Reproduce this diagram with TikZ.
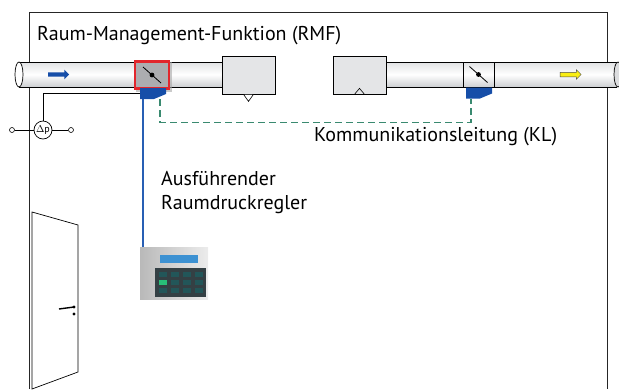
\documentclass[tikz,border=0pt]{standalone}
\usepackage{fontspec}
\setmainfont{PT Sans}
\usetikzlibrary{arrows.meta,positioning,calc,shapes.geometric,shapes.arrows,shadows.blur}
\definecolor{ductgray}{RGB}{205,207,210}
\definecolor{boxgray}{RGB}{228,229,231}
\definecolor{flapgray}{RGB}{172,173,176}
\definecolor{flapred}{RGB}{226,38,44}
\definecolor{actblue}{RGB}{22,78,168}
\definecolor{wireblue}{RGB}{40,95,180}
\definecolor{klgreen}{RGB}{58,138,112}
\definecolor{flowyellow}{RGB}{250,238,20}
\definecolor{dispblue}{RGB}{60,145,210}
\definecolor{padgray}{RGB}{52,64,68}
\definecolor{keygreen}{RGB}{40,190,120}

\tikzset{
  wall/.style={line width=0.8pt, black!85},
  duct/.style={top color=ductgray!60, bottom color=ductgray, middle color=white},
  box/.style={rectangle, draw, fill=boxgray, line width=0.7pt, minimum width=53pt, minimum height=38pt, inner sep=0pt},
  flap/.style={rectangle, inner sep=0pt,
    path picture={\draw[black, solid, line width=0.8pt] ([shift={(-9pt,8pt)}]path picture bounding box.center) -- ([shift={(9pt,-8pt)}]path picture bounding box.center);
      \fill[black] (path picture bounding box.center) circle (2.4pt);}},
  act/.style={rectangle, inner sep=0pt, minimum width=26pt, minimum height=11pt,
    path picture={\fill[actblue] (path picture bounding box.north west) -- (path picture bounding box.north east)
      -- ([yshift=5pt]path picture bounding box.south east) -- ([xshift=-12pt]path picture bounding box.south east)
      -- (path picture bounding box.south west) -- cycle;}},
  term/.style={circle, draw, fill=white, minimum size=5pt, inner sep=0pt, line width=0.6pt},
  flow/.style={single arrow, inner sep=2pt, single arrow head extend=2.6pt, minimum height=21pt},
  label/.style={inner sep=0pt, anchor=west, align=left},
}

\begin{document}
\begin{tikzpicture}[x=1pt, y=-1pt, >=Stealth, font=\fontsize{20}{24}\selectfont]
\useasboundingbox (0,0) rectangle (619,389);
% room walls
\draw[wall] (29,389) -- (29,12) -- (607,12) -- (607,389);
% door with handle
\draw[line width=0.7pt, fill=white] (32,212) -- (78,225) -- (78,372) -- (32,389) -- cycle;
\draw[line width=1.4pt] (59,309) -- (74,307);
\fill (74,307) circle (1.7pt) (74,314) circle (1.7pt);

% duct, left part
\shade[duct] (19,62) rectangle (222,87);
\draw[line width=0.7pt] (19,62) -- (222,62) (19,87) -- (222,87);
\filldraw[fill=white, line width=0.7pt] (19,74.5) ellipse [x radius=4, y radius=12.5];
% duct, right part
\shade[duct] (386,62) rectangle (617,87);
\draw[line width=0.7pt] (386,62) -- (617,62) (386,87) -- (617,87);
\draw[line width=0.7pt, fill=ductgray!70] (618,74.5) ellipse [x radius=4, y radius=12.5];

% volume flow boxes
\node[box] (boxa) at (248.5,75) {};
\node[box] (boxb) at (359.5,75) {};
\draw[line width=0.6pt, fill=white] ([xshift=-5pt]boxa.south) -- ([xshift=5pt]boxa.south) -- ([yshift=-7pt]boxa.south) -- cycle;
\draw[line width=0.6pt] ([xshift=-5pt]boxb.south) -- ([xshift=5pt]boxb.south) -- ([yshift=6pt]boxb.south) -- cycle;

% dampers and actuators
\fill[black!35, opacity=0.6] (136,62) rectangle (172,92);
\node[flap, draw=flapred, line width=2.4pt, fill=flapgray, minimum width=34pt, minimum height=27pt] (flapa) at (152,75) {};
\node[flap, draw, line width=0.7pt, minimum width=31pt, minimum height=25pt] (flapb) at (478.5,74.5) {};
\node[act] (acta) at (153,93.5) {};
\node[act] (actb) at (479,93) {};

% flow direction
\node[flow, fill=actblue] (flowin) at (57.5,74.5) {};
\node[flow, fill=flowyellow, draw=black!70, line width=0.5pt] (flowout) at (569.5,74.5) {};

% pressure difference sensor
\node[circle, draw, fill=white, line width=0.7pt, minimum size=18pt, inner sep=0pt, font=\fontsize{10}{10}\selectfont] (dp) at (43,130) {$\Delta$p};
\node[term] (ta) at (12,130) {};
\node[term] (tb) at (71,130) {};
\draw[line width=0.7pt] (ta) -- (dp) -- (tb);
\draw[line width=0.7pt] (dp.north) |- (acta.west);

% room pressure controller
\node[rectangle, inner sep=0pt, minimum width=68pt, minimum height=52pt, left color=gray!55, right color=gray!15] (ctrl) at (174,273) {};
\fill[dispblue] ([shift={(-14pt,18pt)}]ctrl.center) rectangle ([shift={(24pt,10pt)}]ctrl.center);
\fill[padgray] ([shift={(-19pt,5pt)}]ctrl.center) rectangle ([shift={(32pt,-24pt)}]ctrl.center);
\foreach \i in {0,1,2,3} \foreach \j in {0,1,2}
  \fill[teal!35!padgray] ([shift={(-15pt+12*\i pt,1pt-8*\j pt)}]ctrl.center) rectangle ++(8pt,-5pt);
\fill[keygreen] ([shift={(-15pt,-7pt)}]ctrl.center) rectangle ++(8pt,-5pt);
\draw[wireblue, line width=1.4pt] ([xshift=3pt]acta.south west) -- ([xshift=3pt]acta.south west |- ctrl.north);

% communication line
\draw[klgreen, line width=1.3pt, dash pattern=on 7pt off 4pt] ([xshift=7pt]acta.south) -- ++(0,23) -| ([xshift=-8pt]actb.south);

% texts
\node[label] (rmf) at (37,36) {Raum-Management-Funktion (RMF)};
\node[label] (kl) at (314,137) {Kommunikationsleitung (KL)};
\node[label, anchor=north west] (arr) at (161,171) {Ausführender\\Raumdruckregler};
\end{tikzpicture}
\end{document}
